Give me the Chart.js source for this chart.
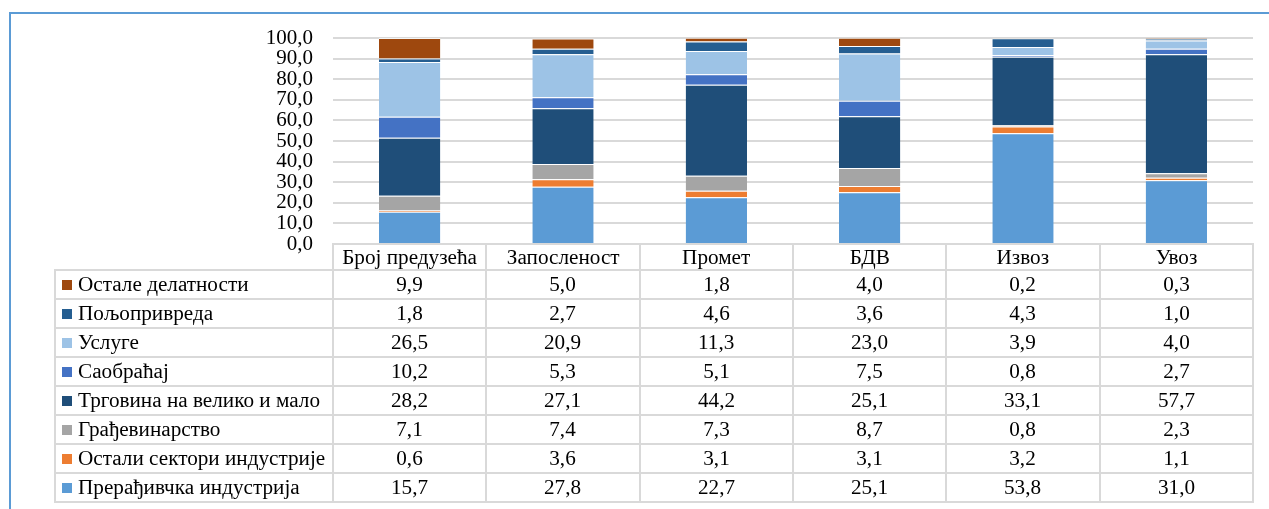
<!DOCTYPE html>
<html>
<head>
<meta charset="utf-8">
<script src="https://cdn.jsdelivr.net/npm/chart.js@4/dist/chart.umd.min.js"></script>
<style>
html, body {
    margin: 0;
    padding: 0;
    background: #fff;
    overflow: hidden;
}
#wrap {
    position: relative;
    width: 1269px;
    height: 509px;
}
#frame {
    position: absolute;
    left: 9px;
    top: 12px;
    width: 1400px;
    height: 600px;
    border-top: 2px solid #5B9BD5;
    border-left: 2px solid #5B9BD5;
}
#chart {
    position: absolute;
    left: 0;
    top: 0;
}
#dataTable {
    position: absolute;
    border-collapse: collapse;
    table-layout: fixed;
    font-family: "Liberation Serif", "Times New Roman", serif;
    font-size: 20px;
    color: #000;
}
#dataTable td {
    border: 2px solid #D9D9D9;
    padding: 0;
    text-align: center;
    white-space: nowrap;
    overflow: visible;
}
#dataTable td.blank {
    border: none;
}
#dataTable td.name {
    text-align: left;
    padding-left: 6px;
}
.txt {
    display: inline-block;
    transform: scaleX(1.06);
}
.name .txt {
    transform-origin: left center;
}
.sw {
    display: inline-block;
    width: 10px;
    height: 10px;
    margin-right: 6px;
    vertical-align: 1px;
}
</style>
</head>
<body>
<div id="wrap">
    <div id="frame"></div>
    <canvas id="chart" width="1269" height="509"></canvas>
</div>

<script>
// ==========================
// DATA
// ==========================

const categories = [
    "Број предузећа",
    "Запосленост",
    "Промет",
    "БДВ",
    "Извоз",
    "Увоз"
];

// series, bottom of the stack first
const preradjivacka = [15.7, 27.8, 22.7, 25.1, 53.8, 31.0];
const ostaliSektori = [0.6, 3.6, 3.1, 3.1, 3.2, 1.1];
const gradjevinarstvo = [7.1, 7.4, 7.3, 8.7, 0.8, 2.3];
const trgovina = [28.2, 27.1, 44.2, 25.1, 33.1, 57.7];
const saobracaj = [10.2, 5.3, 5.1, 7.5, 0.8, 2.7];
const usluge = [26.5, 20.9, 11.3, 23.0, 3.9, 4.0];
const poljoprivreda = [1.8, 2.7, 4.6, 3.6, 4.3, 1.0];
const ostaleDelatnosti = [9.9, 5.0, 1.8, 4.0, 0.2, 0.3];

const yTicks = [0, 10, 20, 30, 40, 50, 60, 70, 80, 90, 100];

// ==========================
// SERIES
// ==========================

const series = [
    { label: "Прерађивчка индустрија", data: preradjivacka, color: "#5B9BD5" },
    { label: "Остали сектори индустрије", data: ostaliSektori, color: "#ED7D31" },
    { label: "Грађевинарство", data: gradjevinarstvo, color: "#A5A5A5" },
    { label: "Трговина на велико и мало", data: trgovina, color: "#1F4E79" },
    { label: "Саобраћај", data: saobracaj, color: "#4472C4" },
    { label: "Услуге", data: usluge, color: "#9DC3E6" },
    { label: "Пољопривреда", data: poljoprivreda, color: "#255E91" },
    { label: "Остале делатности", data: ostaleDelatnosti, color: "#9E480E" }
];

const fmt = v => v.toFixed(1).replace(".", ",");

// ==========================
// CHART
// ==========================

const canvas = document.getElementById("chart");

const chart = new Chart(canvas, {
    type: "bar",
    data: {
        labels: categories,
        datasets: series.map(s => ({
            label: s.label,
            data: s.data,
            backgroundColor: s.color,
            borderColor: "rgba(255,255,255,0.7)",
            borderWidth: { top: 1, bottom: 0, left: 0, right: 0 },
            borderSkipped: false,
            categoryPercentage: 1,
            barPercentage: 0.4
        }))
    },
    options: {
        responsive: false,
        animation: false,
        layout: {
            padding: { top: 38, right: 16, bottom: 265, left: 0 }
        },
        plugins: {
            legend: { display: false },
            tooltip: { enabled: false }
        },
        scales: {
            x: {
                stacked: true,
                display: false
            },
            y: {
                stacked: true,
                min: 0,
                max: 100,
                afterBuildTicks: s => {
                    s.ticks = yTicks.map(v => ({ value: v }));
                },
                afterFit: s => {
                    s.width = 333;
                },
                border: { display: false },
                grid: {
                    color: "#D9D9D9",
                    lineWidth: 2,
                    drawTicks: false
                },
                ticks: {
                    autoSkip: false,
                    padding: 20,
                    color: "#000",
                    font: {
                        family: "'Liberation Serif', 'Times New Roman', serif",
                        size: 21
                    },
                    callback: v => fmt(v)
                }
            }
        }
    }
});

// ==========================
// DATA TABLE UNDER THE BARS
// ==========================

const area = chart.chartArea;
const colW = (area.right - area.left) / categories.length;
const nameW = area.left - 55;

const table = document.createElement("table");
table.id = "dataTable";
table.style.left = (55 - 1) + "px";
table.style.top = (area.bottom - 1) + "px";
table.style.width = (nameW + colW * categories.length) + "px";

let html = "<colgroup><col style='width:" + nameW + "px'>";
categories.forEach(() => {
    html += "<col style='width:" + colW + "px'>";
});
html += "</colgroup>";

html += "<tr style='height:26px'><td class='blank'></td>";
categories.forEach(c => {
    html += "<td><span class='txt'>" + c + "</span></td>";
});
html += "</tr>";

// legend rows, top of the stack first
series.slice().reverse().forEach(s => {
    html += "<tr style='height:29px'><td class='name'>";
    html += "<span class='sw' style='background:" + s.color + "'></span>";
    html += "<span class='txt'>" + s.label + "</span></td>";
    s.data.forEach(v => {
        html += "<td><span class='txt'>" + fmt(v) + "</span></td>";
    });
    html += "</tr>";
});

table.innerHTML = html;
document.getElementById("wrap").appendChild(table);
</script>
</body>
</html>
